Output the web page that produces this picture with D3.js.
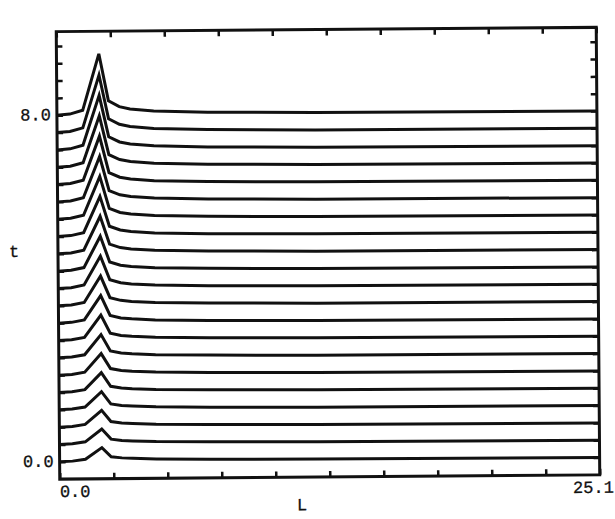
<!DOCTYPE html>
<html lang="en">
<head>
<meta charset="UTF-8">
<title>t vs L</title>
<script src="https://cdnjs.cloudflare.com/ajax/libs/d3/7.8.5/d3.min.js"></script>
<style>
  * { margin: 0; padding: 0; }
  body { background: #fff; }
  svg text { font-family: 'Liberation Mono', 'DejaVu Sans Mono', monospace; font-size: 17px; fill: #111; stroke: #111; stroke-width: 0.3; }
</style>
</head>
<body>
<div id="chart"></div>
<script>
// one curve per time step
const times = [0.0, 0.4, 0.8, 1.2, 1.6, 2.0, 2.4, 2.8, 3.2, 3.6, 4.0,
               4.4, 4.8, 5.2, 5.6, 6.0, 6.4, 6.8, 7.2, 7.6, 8.0];
// height of the pulse above the curve's own baseline
const peaks = [0.29, 0.32, 0.35, 0.38, 0.42, 0.46, 0.50, 0.55, 0.60, 0.65, 0.71,
               0.77, 0.83, 0.89, 0.95, 1.01, 1.08, 1.15, 1.22, 1.29, 1.38];
// sample positions along L, pulse profile (scaled by peak) and common shelf
const lPts  = [0, 0.6, 1.2, 1.97, 2.4, 2.9, 3.4, 4.5, 7, 12, 25.1];
const shape = [0, 0.01, 0.05, 1, 0.2, 0.1, 0.06, 0.03, 0.01, 0, 0];
const shelf = [0, 0.01, 0.04, 0.03, 0.05, 0.05, 0.05, 0.04, 0.03, 0.015, 0];

const xTicks = d3.range(0, 25.11, 2.51);
const yTicks = d3.range(0, 9.61, 0.4);
const xLabels = [[0, '0.0'], [25.1, '25.1']];
const yLabels = [[0, '0.0'], [8, '8.0']];

const width = 615, height = 519;
const frame = {left: 58, right: 598, top: 29.5, bottom: 477};

const x = d3.scaleLinear().domain([0, 25.1]).range([frame.left, frame.right]);
const y = d3.scaleLinear().domain([-0.4, 9.93]).range([frame.bottom, frame.top]);

const svg = d3.select('#chart').append('svg')
    .attr('width', width)
    .attr('height', height);

// the scanned plot sits a little crooked on the page
const g = svg.append('g')
    .attr('transform', `rotate(-0.45, ${(frame.left + frame.right) / 2}, ${(frame.top + frame.bottom) / 2})`);

const ink = '#111';

// inward ticks on all four sides
g.append('g').attr('transform', `translate(0,${frame.bottom})`)
    .call(d3.axisBottom(x).tickValues(xTicks).tickSizeInner(-6).tickSizeOuter(0).tickFormat(''));
g.append('g').attr('transform', `translate(0,${frame.top})`)
    .call(d3.axisTop(x).tickValues(xTicks).tickSizeInner(-6).tickSizeOuter(0).tickFormat(''));
g.append('g').attr('transform', `translate(${frame.left},0)`)
    .call(d3.axisLeft(y).tickValues(yTicks).tickSizeInner(-6).tickSizeOuter(0).tickFormat(''));
g.append('g').attr('transform', `translate(${frame.right},0)`)
    .call(d3.axisRight(y).tickValues(yTicks).tickSizeInner(-6).tickSizeOuter(0).tickFormat(''));

g.selectAll('.domain').remove();
g.selectAll('.tick line').attr('stroke', ink).attr('stroke-width', 2.5);

// curves
const line = d3.line()
    .x(d => x(d[0]))
    .y(d => y(d[1]));

const curves = times.map((t, k) => lPts.map((l, i) => [l, t + peaks[k] * shape[i] + shelf[i]]));

g.selectAll('.curve')
    .data(curves)
    .enter()
    .append('path')
    .attr('class', 'curve')
    .attr('d', line)
    .attr('fill', 'none')
    .attr('stroke', ink)
    .attr('stroke-width', 3)
    .attr('stroke-linejoin', 'miter');

// frame
g.append('rect')
    .attr('x', frame.left)
    .attr('y', frame.top)
    .attr('width', frame.right - frame.left)
    .attr('height', frame.bottom - frame.top)
    .attr('fill', 'none')
    .attr('stroke', ink)
    .attr('stroke-width', 3);

// labels
g.selectAll('.xlab')
    .data(xLabels)
    .enter()
    .append('text')
    .attr('class', 'xlab')
    .attr('x', d => d[0] === 0 ? x(d[0]) : 612)
    .attr('y', frame.bottom + 18)
    .attr('text-anchor', d => d[0] === 0 ? 'start' : 'end')
    .text(d => d[1]);

g.selectAll('.ylab')
    .data(yLabels)
    .enter()
    .append('text')
    .attr('class', 'ylab')
    .attr('x', frame.left - 6)
    .attr('y', d => y(d[0]) + 5)
    .attr('text-anchor', 'end')
    .text(d => d[1]);

g.append('text')
    .attr('x', 300)
    .attr('y', frame.bottom + 33)
    .attr('text-anchor', 'middle')
    .text('L');

g.append('text')
    .attr('x', 14)
    .attr('y', y(4.85) + 5)
    .attr('text-anchor', 'middle')
    .text('t');
</script>
</body>
</html>
